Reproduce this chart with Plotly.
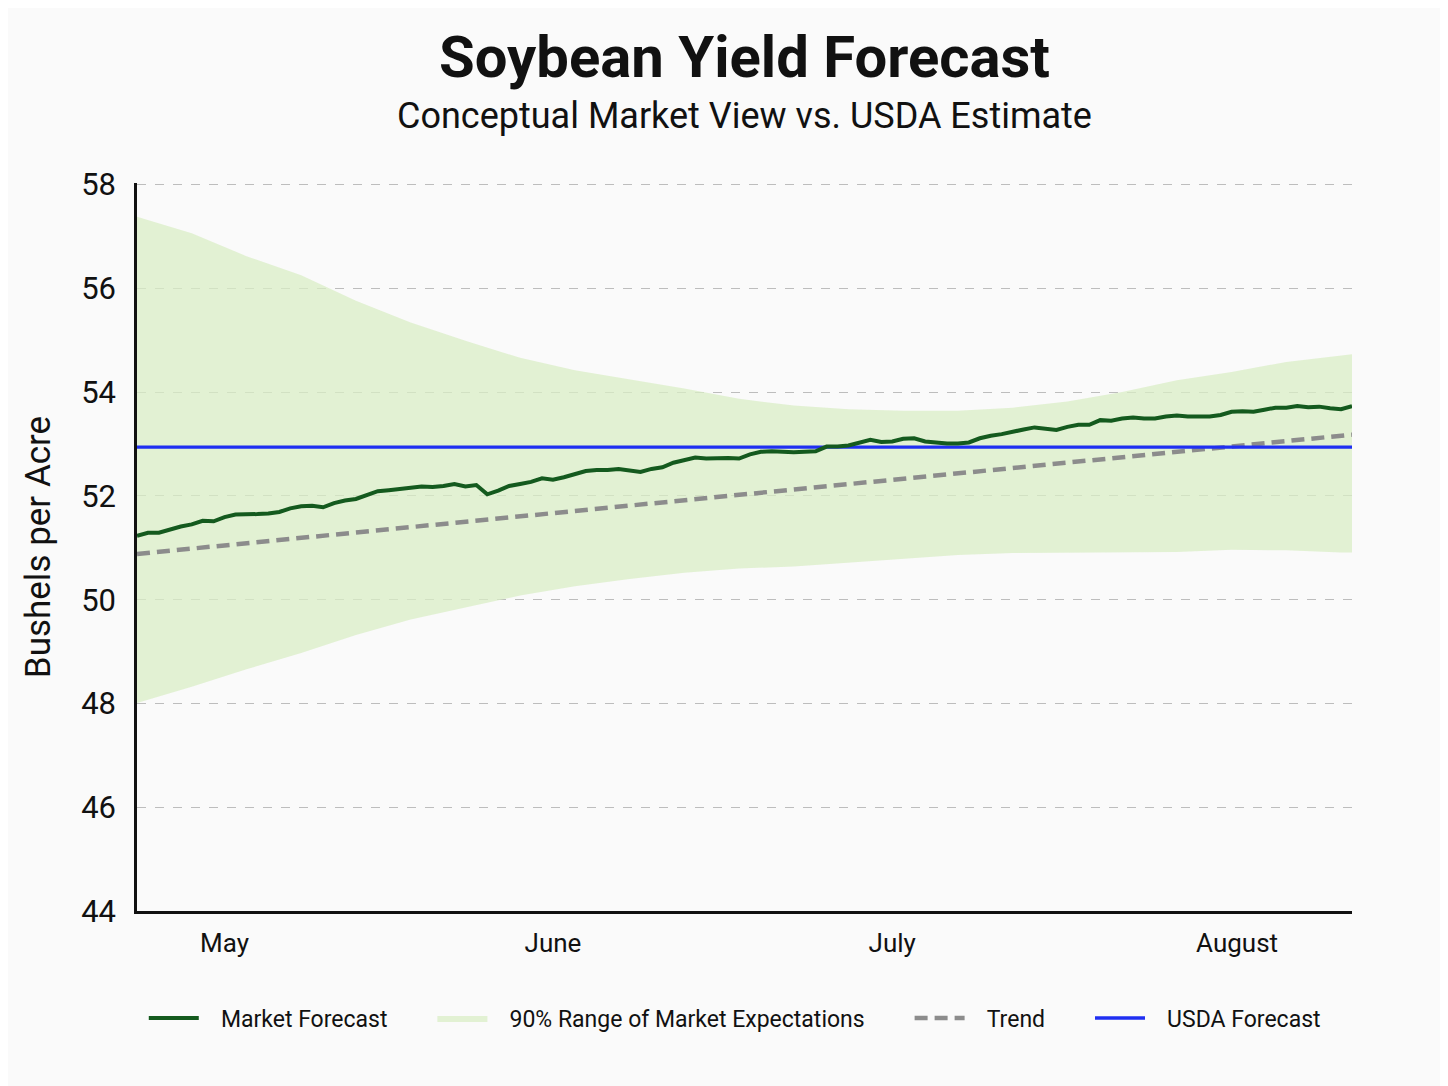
import pandas as pd
import plotly.graph_objects as go

# daily market forecast, starting 7 May
START = "2024-05-07"
MARKET_FORECAST = [
    51.23, 51.29, 51.29, 51.36, 51.41, 51.45, 51.52, 51.51, 51.59, 51.64,
    51.64, 51.65, 51.66, 51.69, 51.76, 51.80, 51.81, 51.78, 51.86, 51.91,
    51.94, 52.02, 52.09, 52.11, 52.13, 52.16, 52.18, 52.17, 52.19, 52.23,
    52.18, 52.21, 52.03, 52.10, 52.19, 52.23, 52.27, 52.34, 52.31, 52.36,
    52.42, 52.48, 52.50, 52.50, 52.52, 52.49, 52.46, 52.52, 52.55, 52.64,
    52.70, 52.74, 52.72, 52.73, 52.73, 52.72, 52.80, 52.85, 52.86, 52.85,
    52.84, 52.85, 52.86, 52.95, 52.95, 52.97, 53.02, 53.08, 53.04, 53.05,
    53.10, 53.11, 53.05, 53.03, 53.01, 53.01, 53.03, 53.11, 53.16, 53.19,
    53.24, 53.28, 53.32, 53.30, 53.27, 53.33, 53.37, 53.37, 53.46, 53.45,
    53.49, 53.51, 53.49, 53.49, 53.53, 53.55, 53.53, 53.53, 53.53, 53.56,
    53.62, 53.63, 53.62, 53.66, 53.70, 53.70, 53.73, 53.71, 53.72, 53.69,
    53.67, 53.73,
]

# 90% range, sampled every 5 days
BAND_DAYS = [0, 5, 10, 15, 20, 25, 30, 35, 40, 45, 50, 55,
             60, 65, 70, 75, 80, 85, 90, 95, 100, 105, 110, 111]
BAND_UPPER = [57.38, 57.06, 56.62, 56.25, 55.76, 55.34, 54.99, 54.66,
              54.42, 54.24, 54.07, 53.87, 53.74, 53.67, 53.64, 53.64,
              53.70, 53.82, 54.00, 54.23, 54.39, 54.58, 54.71, 54.73]
BAND_LOWER = [48.01, 48.32, 48.66, 48.97, 49.32, 49.62, 49.85, 50.08,
              50.26, 50.40, 50.52, 50.60, 50.64, 50.71, 50.79, 50.86,
              50.90, 50.91, 50.92, 50.92, 50.96, 50.95, 50.91, 50.91]

TREND_DAYS = [0, 111]
TREND = [50.88, 53.18]
USDA_FORECAST = 52.94

MONTH_TICKS = ["2024-05-15", "2024-06-14", "2024-07-15", "2024-08-15 12:00"]
MONTH_LABELS = ["May", "June", "July", "August"]

FONT = "Roboto"
INK = "#111111"
# translucent so the dashed grid shows faintly through the band
BAND_COLOR = "rgba(218,238,198,0.75)"

LEAD = "\u00a0" * 3
GAP = "\u00a0" * 7

start = pd.Timestamp(START)
line_dates = pd.date_range(start, periods=len(MARKET_FORECAST), freq="D")
band_dates = [start + pd.Timedelta(days=d) for d in BAND_DAYS]
trend_dates = [start + pd.Timedelta(days=d) for d in TREND_DAYS]

fig = go.Figure()

fig.add_trace(go.Scatter(
    x=band_dates, y=BAND_LOWER, mode="lines", line=dict(width=0),
    showlegend=False, hoverinfo="skip",
))
fig.add_trace(go.Scatter(
    x=band_dates, y=BAND_UPPER, mode="lines", line=dict(width=0),
    fill="tonexty", fillcolor=BAND_COLOR,
    name=LEAD + "90% Range of Market Expectations" + GAP, legendrank=2,
))
fig.add_trace(go.Scatter(
    x=trend_dates, y=TREND, mode="lines",
    line=dict(color="#8c8c8c", width=4.5, dash="13px,7px"),
    name=LEAD + "Trend" + GAP, legendrank=3,
))
fig.add_trace(go.Scatter(
    x=trend_dates, y=[USDA_FORECAST, USDA_FORECAST], mode="lines",
    line=dict(color="#1f2ff2", width=3.4),
    name=LEAD + "USDA Forecast", legendrank=4,
))
fig.add_trace(go.Scatter(
    x=line_dates, y=MARKET_FORECAST, mode="lines",
    line=dict(color="#145a1e", width=4),
    name=LEAD + "Market Forecast" + GAP, legendrank=1,
))

fig.update_layout(
    width=1448,
    height=1086,
    paper_bgcolor="#fafafa",
    plot_bgcolor="#fafafa",
    margin=dict(l=129, r=104, t=175, b=183),
    font=dict(family=FONT, color=INK),
    title=dict(
        text="<b>Soybean Yield Forecast</b>",
        font=dict(size=58, family=FONT, color=INK),
        x=0.5, xref="paper", xanchor="center",
        y=0.955, yref="container", yanchor="middle",
    ),
    annotations=[dict(
        text="Conceptual Market View vs. USDA Estimate",
        xref="paper", yref="paper", x=0.5, y=1.092,
        xanchor="center", yanchor="middle", showarrow=False,
        font=dict(size=36, family=FONT, color=INK),
    )],
    legend=dict(
        orientation="h", x=0.492, xanchor="center", y=-0.147, yanchor="middle",
        font=dict(size=23, family=FONT, color=INK),
        itemwidth=50, traceorder="normal", bgcolor="rgba(0,0,0,0)",
    ),
    showlegend=True,
)

fig.update_xaxes(
    range=[start, start + pd.Timedelta(days=111)],
    tickvals=MONTH_TICKS, ticktext=MONTH_LABELS,
    tickfont=dict(size=26, family=FONT, color=INK),
    showgrid=False, zeroline=False,
    showline=True, linecolor=INK, linewidth=2.5,
    ticks="", ticklabelstandoff=7,
)
fig.update_yaxes(
    range=[44, 58.03], tickvals=[44, 46, 48, 50, 52, 54, 56, 58],
    tickfont=dict(size=31, family=FONT, color=INK),
    title=dict(text="Bushels per Acre", font=dict(size=35, family=FONT, color=INK),
               standoff=20),
    showgrid=True, gridcolor="#bdbdbd", gridwidth=1.4, griddash="dash",
    zeroline=False, showline=True, linecolor=INK, linewidth=2.5,
    ticks="", ticklabelstandoff=12,
)

fig.write_html("out.html")
